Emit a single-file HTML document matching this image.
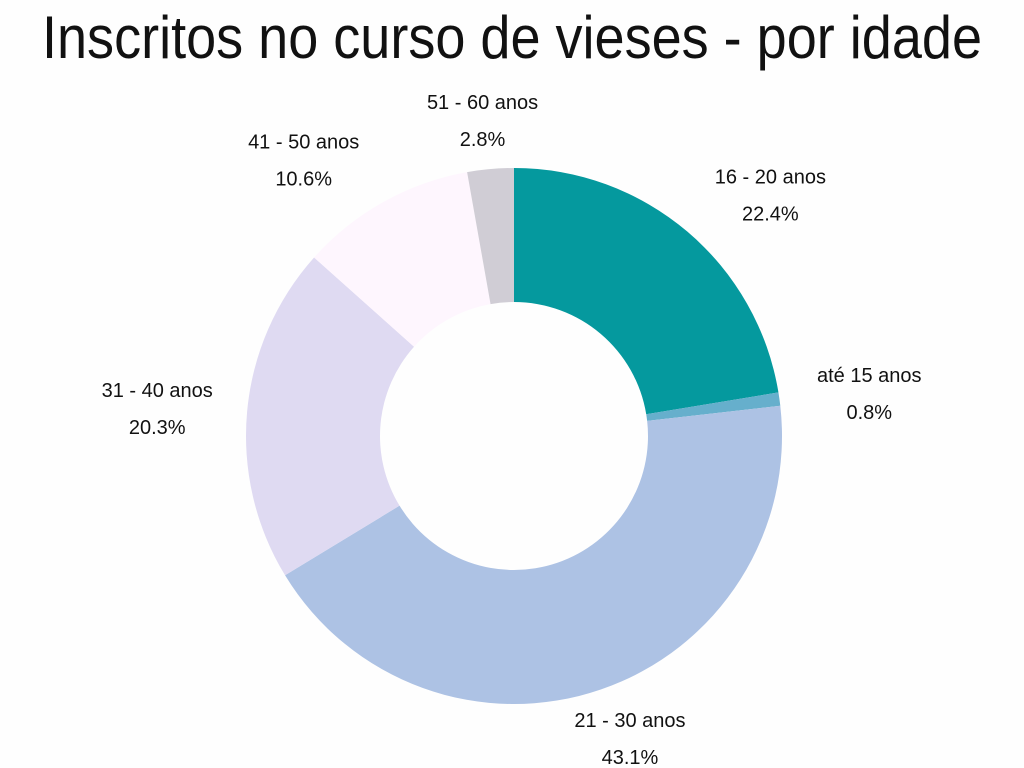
<!DOCTYPE html>
<html><head><meta charset="utf-8"><style>
html,body{margin:0;padding:0;background:#fefefe;}
svg{display:block;}
</style></head><body>
<svg id="chart" width="1024" height="768" viewBox="0 0 1024 768" xmlns="http://www.w3.org/2000/svg">
<rect width="1024" height="768" fill="#fefefe"/>
<text x="42" y="58" font-family="Liberation Sans, sans-serif" font-size="60" font-weight="300" fill="#111" textLength="940" lengthAdjust="spacingAndGlyphs">Inscritos no curso de vieses - por idade</text>
<g id="slices"></g>
<g id="labels"></g>
</svg>
<script>
const categories = ["16 - 20 anos","até 15 anos","21 - 30 anos","31 - 40 anos","41 - 50 anos","51 - 60 anos"];
const values = [22.4, 0.8, 43.1, 20.3, 10.6, 2.8];
const valueLabels = ["22.4%","0.8%","43.1%","20.3%","10.6%","2.8%"];
const colors = ["#05999e","#66afcc","#adc2e4","#dfdaf2","#fef6fe","#d0cdd5"];
const cx=514, cy=436, R=268, r=134;
const NS="http://www.w3.org/2000/svg";
const total = values.reduce((a,b)=>a+b,0);
function pt(rad, a){ return [cx+rad*Math.sin(a), cy-rad*Math.cos(a)]; }
const gS=document.getElementById('slices'), gL=document.getElementById('labels');
let acc=0;
values.forEach((v,i)=>{
  const a0=acc/total*2*Math.PI; acc+=v; const a1=acc/total*2*Math.PI;
  const large=(a1-a0)>Math.PI?1:0;
  const [x0,y0]=pt(R,a0),[x1,y1]=pt(R,a1),[x2,y2]=pt(r,a1),[x3,y3]=pt(r,a0);
  const p=document.createElementNS(NS,'path');
  p.setAttribute('d',`M${x0},${y0}A${R},${R} 0 ${large} 1 ${x1},${y1}L${x2},${y2}A${r},${r} 0 ${large} 0 ${x3},${y3}Z`);
  p.setAttribute('fill',colors[i]);
  
  
  gS.appendChild(p);
  const am=(a0+a1)/2;
  let [lx,ly]=pt(R+20,am);
  const s=Math.sin(am);
  lx += Math.abs(s)>0.4 ? Math.sign(s)*70 : s*70;
  ly -= Math.cos(am)*30;
  const t=document.createElementNS(NS,'text');
  
  
  t.setAttribute('x',lx); t.setAttribute('text-anchor','middle');
  t.setAttribute('font-family','Liberation Sans, sans-serif');
  t.setAttribute('font-size','20'); t.setAttribute('fill','#111');
  const s1=document.createElementNS(NS,'tspan');
  s1.setAttribute('x',lx); s1.setAttribute('y',ly-10); s1.textContent=categories[i];
  const s2=document.createElementNS(NS,'tspan');
  s2.setAttribute('x',lx); s2.setAttribute('y',ly+27); s2.textContent=valueLabels[i];
  t.appendChild(s1); t.appendChild(s2);
  gL.appendChild(t);
});
</script>
</body></html>
